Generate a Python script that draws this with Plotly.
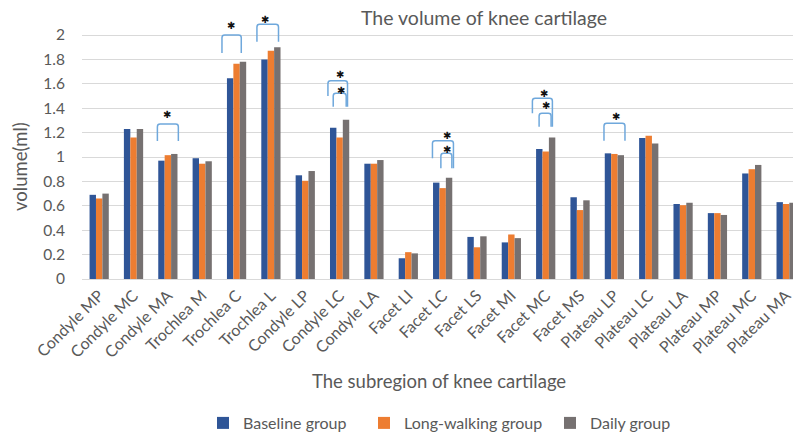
import plotly.graph_objects as go

categories = ["Condyle MP", "Condyle MC", "Condyle MA", "Trochlea M", "Trochlea C",
              "Trochlea L", "Condyle LP", "Condyle LC", "Condyle LA", "Facet LI",
              "Facet LC", "Facet LS", "Facet MI", "Facet MC", "Facet MS",
              "Plateau LP", "Plateau LC", "Plateau LA", "Plateau MP", "Plateau MC",
              "Plateau MA"]
baseline = [0.69, 1.23, 0.97, 0.99, 1.645, 1.80, 0.85, 1.24, 0.945, 0.17, 0.79,
            0.345, 0.30, 1.065, 0.67, 1.03, 1.155, 0.615, 0.54, 0.865, 0.63]
long_walking = [0.66, 1.16, 1.015, 0.945, 1.765, 1.87, 0.805, 1.16, 0.945, 0.22, 0.745,
                0.26, 0.365, 1.045, 0.565, 1.025, 1.175, 0.605, 0.54, 0.90, 0.615]
daily = [0.70, 1.23, 1.025, 0.965, 1.78, 1.90, 0.885, 1.305, 0.975, 0.21, 0.83,
         0.35, 0.335, 1.16, 0.645, 1.015, 1.11, 0.625, 0.525, 0.935, 0.625]
y_tick_values = [0, 0.2, 0.4, 0.6, 0.8, 1, 1.2, 1.4, 1.6, 1.8, 2]
y_tick_labels = ["0", "0.2", "0.4", "0.6", "0.8", "1", "1.2", "1.4", "1.6", "1.8", "2"]

series = [("Baseline group", baseline, "#2F5597", "legend"),
          ("Long-walking group", long_walking, "#ED7D31", "legend2"),
          ("Daily group", daily, "#767171", "legend3")]

FONT = "Lato"
GREY = "#595959"
L, T, W, H = 82, 15, 711, 264
x_idx = list(range(len(categories)))

fig = go.Figure()
for name, vals, col, lg in series:
    fig.add_trace(go.Bar(x=x_idx, y=vals, name=name, legend=lg,
                         marker=dict(color=col, line=dict(width=0))))

# significance brackets: (category, left dx, right dx, top, left bottom, right bottom, star dx, star y)
brackets = [
    ("Condyle MA", -0.305, 0.305, 1.270, 1.131, 1.131, -0.04, 1.352),
    ("Trochlea C", -0.425, 0.137, 2.000, 1.852, 1.852, -0.155, 2.082),
    ("Trochlea L", -0.407, 0.221, 2.088, 1.945, 1.945, -0.163, 2.131),
    ("Condyle LC", -0.340, 0.230, 1.625, 1.500, 1.412, -0.003, 1.680),
    ("Condyle LC", -0.186, 0.192, 1.522, 1.412, 1.412, 0.047, 1.543),
    ("Facet LC", -0.297, 0.314, 1.134, 0.989, 0.907, 0.140, 1.180),
    ("Facet LC", -0.052, 0.268, 1.030, 0.907, 0.907, 0.122, 1.063),
    ("Facet MC", -0.387, 0.195, 1.481, 1.358, 1.248, -0.047, 1.522),
    ("Facet MC", -0.192, 0.157, 1.358, 1.248, 1.248, 0.012, 1.426),
    ("Plateau LP", -0.303, 0.308, 1.276, 1.134, 1.134, 0.041, 1.330),
]
rx, ry = 0.08, 0.022
for cat, dl, dr, top, bl, br, sdx, sy in brackets:
    c = categories.index(cat)
    xl, xr = c + dl, c + dr
    path = (f"M {xl},{bl} L {xl},{top - ry} Q {xl},{top} {xl + rx},{top} "
            f"L {xr - rx},{top} Q {xr},{top} {xr},{top - ry} L {xr},{br}")
    fig.add_shape(type="path", path=path, xref="x", yref="y",
                  line=dict(color="#6FA8DC", width=1.5))
    fig.add_annotation(x=c + sdx, y=sy, xref="x", yref="y", text="✱",
                       showarrow=False, yshift=0, borderpad=0,
                       font=dict(family="DejaVu Sans", size=10, color="#111111"))


def px(xp):
    return (xp - L) / W


def py(yp):
    return (T + H - yp) / H


fig.add_annotation(text="The volume of knee cartilage", xref="paper", yref="paper",
                   x=px(484), y=py(18), showarrow=False, xanchor="center", yanchor="middle",
                   font=dict(family=FONT, size=19.5, color=GREY))
fig.add_annotation(text="The subregion of knee cartilage", xref="paper", yref="paper",
                   x=px(439), y=py(381), showarrow=False, xanchor="center", yanchor="middle",
                   font=dict(family=FONT, size=18.5, color=GREY))
fig.add_annotation(text="volume(ml)", xref="paper", yref="paper", textangle=-90,
                   x=px(20), y=py(167), showarrow=False, xanchor="center", yanchor="middle",
                   font=dict(family=FONT, size=18.5, color=GREY))

legend_common = dict(orientation="h", xanchor="left", yanchor="middle", y=py(423),
                     font=dict(family=FONT, size=16, color=GREY), bgcolor="rgba(0,0,0,0)")
fig.update_layout(
    width=793, height=432,
    margin=dict(l=L, r=793 - L - W, t=T, b=432 - T - H, autoexpand=False),
    paper_bgcolor="white", plot_bgcolor="white",
    barmode="group", bargap=0.44, bargroupgap=0,
    font=dict(family=FONT, size=15, color=GREY),
    showlegend=True,
    legend=dict(x=px(203), **legend_common),
    legend2=dict(x=px(364), **legend_common),
    legend3=dict(x=px(550), **legend_common),
)
fig.update_xaxes(range=[-0.5, 20.2], tickmode="array", tickvals=x_idx, ticktext=categories,
                 tickangle=-45, showgrid=False, showline=True, linecolor="#D9D9D9",
                 linewidth=1, ticks="", ticklabeloverflow="allow",
                 tickfont=dict(family=FONT, size=16, color=GREY), zeroline=False)
fig.update_yaxes(range=[0, 2.164], tickmode="array", tickvals=y_tick_values,
                 ticktext=y_tick_labels, showgrid=True, gridcolor="#D9D9D9", gridwidth=1,
                 zeroline=False, showline=False, ticks="", ticklabelstandoff=16,
                 tickfont=dict(family=FONT, size=15.5, color=GREY))

fig.write_html("out.html", config={"displayModeBar": False},
               post_script="document.body.style.margin='0';")
